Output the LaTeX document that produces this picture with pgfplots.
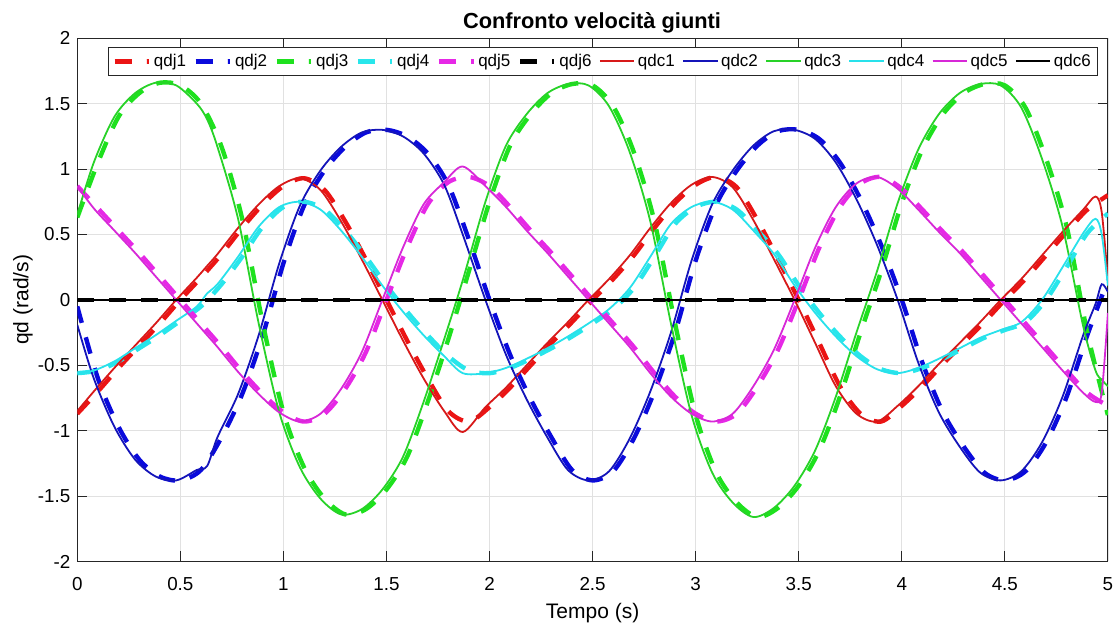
\documentclass[border=0pt]{standalone}
\usepackage{fontspec}
\setmainfont{Liberation Sans}
\usepackage{pgfplots}
\usepackage{pgfplotstable}
\pgfplotsset{compat=1.18}

\definecolor{axgray}{RGB}{38,38,38}
\definecolor{gridgray}{RGB}{225,225,225}
\definecolor{jR}{RGB}{235,20,20}
\definecolor{jB}{RGB}{10,10,220}
\definecolor{jG}{RGB}{30,225,30}
\definecolor{jC}{RGB}{40,230,235}
\definecolor{jM}{RGB}{230,40,230}
\definecolor{sR}{RGB}{215,25,25}
\definecolor{sB}{RGB}{20,20,185}
\definecolor{sG}{RGB}{40,210,40}
\definecolor{sC}{RGB}{40,225,235}
\definecolor{sM}{RGB}{215,40,215}

% desired joint velocities (dashed)
\pgfplotstableread{
t j1 j2 j3 j4 j5
0.0 -0.87 -0.05 0.63 -0.56 0.87
0.1 -0.70 -0.60 1.05 -0.54 0.70
0.2 -0.52 -0.97 1.40 -0.47 0.53
0.3 -0.35 -1.22 1.58 -0.37 0.36
0.4 -0.18 -1.35 1.66 -0.27 0.18
0.5 0.00 -1.38 1.64 -0.16 0.00
0.6 0.17 -1.30 1.50 -0.05 -0.18
0.7 0.35 -1.05 1.17 0.12 -0.36
0.8 0.55 -0.72 0.62 0.33 -0.55
0.9 0.73 -0.27 -0.18 0.56 -0.72
1.0 0.87 0.28 -0.86 0.71 -0.86
1.1 0.93 0.72 -1.28 0.75 -0.93
1.2 0.84 0.99 -1.52 0.69 -0.87
1.3 0.60 1.17 -1.64 0.53 -0.68
1.4 0.31 1.28 -1.60 0.33 -0.40
1.5 0.00 1.30 -1.45 0.11 0.00
1.6 -0.31 1.25 -1.20 -0.09 0.40
1.7 -0.60 1.12 -0.78 -0.27 0.73
1.8 -0.85 0.88 -0.30 -0.43 0.90
1.9 -0.93 0.46 0.22 -0.54 0.94
2.0 -0.82 0.00 0.75 -0.56 0.87
2.1 -0.67 -0.42 1.18 -0.52 0.71
2.2 -0.50 -0.76 1.42 -0.45 0.53
2.3 -0.33 -1.05 1.58 -0.37 0.36
2.4 -0.17 -1.30 1.65 -0.28 0.18
2.5 0.00 -1.38 1.64 -0.18 0.00
2.6 0.16 -1.31 1.48 -0.07 -0.18
2.7 0.34 -1.06 1.13 0.09 -0.36
2.8 0.55 -0.70 0.60 0.33 -0.56
2.9 0.74 -0.25 -0.18 0.58 -0.74
3.0 0.88 0.30 -0.88 0.71 -0.87
3.1 0.94 0.73 -1.32 0.75 -0.93
3.2 0.86 0.99 -1.55 0.69 -0.87
3.3 0.61 1.18 -1.66 0.53 -0.66
3.4 0.31 1.29 -1.59 0.35 -0.38
3.5 0.00 1.30 -1.42 0.11 0.00
3.6 -0.33 1.23 -1.15 -0.10 0.40
3.7 -0.66 1.05 -0.74 -0.28 0.71
3.8 -0.87 0.77 -0.25 -0.43 0.89
3.9 -0.93 0.42 0.22 -0.53 0.94
4.0 -0.81 0.00 0.74 -0.56 0.85
4.1 -0.66 -0.48 1.15 -0.52 0.69
4.2 -0.49 -0.86 1.42 -0.45 0.52
4.3 -0.33 -1.12 1.58 -0.37 0.36
4.4 -0.17 -1.32 1.65 -0.29 0.18
4.5 0.00 -1.38 1.64 -0.23 0.00
4.6 0.16 -1.31 1.47 -0.17 -0.18
4.7 0.34 -1.09 1.08 0.00 -0.36
4.8 0.52 -0.74 0.56 0.25 -0.54
4.9 0.69 -0.27 -0.25 0.51 -0.71
5.0 0.80 0.15 -0.88 0.66 -0.81
}\dashdata

% computed joint velocities (solid)
\pgfplotstableread{
t c1 c2 c3 c4 c5
0.00 -0.85 -0.19 0.65 -0.56 0.87
0.08 -0.70 -0.60 1.05 -0.54 0.70
0.18 -0.52 -0.97 1.40 -0.47 0.53
0.28 -0.35 -1.22 1.58 -0.37 0.36
0.38 -0.18 -1.35 1.66 -0.27 0.18
0.48 0.00 -1.38 1.64 -0.16 0.00
0.58 0.17 -1.30 1.50 -0.05 -0.18
0.63 0.26 -1.27 1.38 0.05 -0.27
0.68 0.35 -1.05 1.17 0.12 -0.36
0.78 0.55 -0.72 0.62 0.33 -0.55
0.88 0.73 -0.27 -0.18 0.56 -0.72
0.98 0.87 0.28 -0.86 0.71 -0.86
1.08 0.93 0.72 -1.28 0.75 -0.93
1.18 0.84 0.99 -1.52 0.69 -0.87
1.28 0.60 1.17 -1.64 0.53 -0.68
1.38 0.31 1.28 -1.60 0.33 -0.40
1.48 0.00 1.30 -1.45 0.11 0.00
1.58 -0.31 1.25 -1.20 -0.09 0.40
1.68 -0.60 1.12 -0.78 -0.27 0.73
1.78 -0.85 0.88 -0.30 -0.43 0.90
1.87 -1.01 0.50 0.15 -0.56 1.02
1.98 -0.82 0.00 0.75 -0.56 0.87
2.08 -0.67 -0.42 1.18 -0.52 0.71
2.18 -0.50 -0.76 1.42 -0.45 0.53
2.28 -0.33 -1.05 1.58 -0.37 0.36
2.38 -0.17 -1.30 1.65 -0.28 0.18
2.48 0.00 -1.38 1.64 -0.18 0.00
2.58 0.16 -1.31 1.48 -0.07 -0.18
2.68 0.34 -1.06 1.13 0.09 -0.36
2.78 0.55 -0.70 0.60 0.33 -0.56
2.88 0.74 -0.25 -0.18 0.58 -0.74
2.98 0.88 0.30 -0.88 0.71 -0.87
3.08 0.94 0.73 -1.32 0.75 -0.93
3.18 0.86 0.99 -1.55 0.69 -0.87
3.28 0.61 1.18 -1.66 0.53 -0.66
3.38 0.31 1.29 -1.59 0.35 -0.38
3.48 0.00 1.30 -1.42 0.11 0.00
3.58 -0.33 1.23 -1.15 -0.10 0.40
3.68 -0.66 1.05 -0.74 -0.28 0.71
3.78 -0.87 0.77 -0.25 -0.43 0.89
3.88 -0.93 0.42 0.22 -0.53 0.94
3.98 -0.81 0.00 0.74 -0.56 0.85
4.08 -0.66 -0.48 1.15 -0.52 0.69
4.18 -0.49 -0.86 1.42 -0.45 0.52
4.28 -0.33 -1.12 1.58 -0.37 0.36
4.38 -0.17 -1.32 1.65 -0.29 0.18
4.48 0.00 -1.38 1.64 -0.23 0.00
4.58 0.16 -1.31 1.47 -0.17 -0.18
4.68 0.34 -1.09 1.08 0.00 -0.36
4.78 0.52 -0.74 0.56 0.25 -0.54
4.88 0.69 -0.27 -0.20 0.51 -0.71
4.94 0.79 -0.03 -0.54 0.62 -0.78
4.97 0.67 0.12 -0.61 0.50 -0.71
5.00 0.15 0.06 -0.66 0.11 -0.10
}\soliddata

\begin{document}
\begin{tikzpicture}
\begin{axis}[
  at={(0,0)}, anchor=south west,
  scale only axis, width=515.3pt, height=261.6pt,
  xmin=0, xmax=5, ymin=-2, ymax=2,
  xtick={0,0.5,1,1.5,2,2.5,3,3.5,4,4.5,5},
  ytick={-2,-1.5,-1,-0.5,0,0.5,1,1.5,2},
  /pgf/number format/assume math mode=true,
  ticklabel style={font=\fontsize{9.4}{11}\selectfont, text=black},
  xticklabel style={yshift=-4.5pt},
  xtick pos=both, ytick pos=both,
  xticklabel pos=lower, yticklabel pos=left,
  tick align=inside, major tick length=5pt,
  tick style={draw=axgray, line width=0.5pt},
  axis line style={draw=axgray, line width=0.5pt},
  grid=major,
  major grid style={draw=gridgray, line width=0.4pt},
  every axis title shift=0pt,
  title={Confronto velocità giunti},
  title style={at={(axis description cs:0.4994,1.0191)}, anchor=base,
               font=\fontsize{10.9}{13}\selectfont\bfseries},
  xlabel={Tempo (s)},
  xlabel style={at={(axis description cs:0.5,-0.1086)}, anchor=base,
                font=\fontsize{10.5}{12}\selectfont},
  ylabel={qd (rad/s)},
  ylabel style={at={(axis description cs:-0.0474,0.5)}, anchor=base,
                font=\fontsize{10.5}{12}\selectfont},
  legend columns=12,
  legend style={at={(0.0298,0.9828)}, anchor=north west,
                draw=axgray, fill=white,
                font=\fontsize{8.5}{10}\selectfont,
                inner xsep=2pt, inner ysep=1pt,
                nodes={inner xsep=1.5pt, inner ysep=2pt},
                /tikz/every even column/.append style={column sep=2.2pt}},
]
\addplot[draw=jR, line width=2.2pt, dash pattern=on 8.5pt off 7.5pt, smooth] table[x=t, y=j1] {\dashdata};
\addplot[draw=jB, line width=2.2pt, dash pattern=on 8.5pt off 7.5pt, smooth] table[x=t, y=j2] {\dashdata};
\addplot[draw=jG, line width=2.2pt, dash pattern=on 8.5pt off 7.5pt, smooth] table[x=t, y=j3] {\dashdata};
\addplot[draw=jC, line width=2.2pt, dash pattern=on 8.5pt off 7.5pt, smooth] table[x=t, y=j4] {\dashdata};
\addplot[draw=jM, line width=2.2pt, dash pattern=on 8.5pt off 7.5pt, smooth] table[x=t, y=j5] {\dashdata};
\addplot[draw=black, line width=2.2pt, dash pattern=on 8.5pt off 7.5pt] coordinates {(0,0) (5,0)};
\addplot[draw=sR, line width=0.9pt, smooth] table[x=t, y=c1] {\soliddata};
\addplot[draw=sB, line width=0.9pt, smooth] table[x=t, y=c2] {\soliddata};
\addplot[draw=sG, line width=0.9pt, smooth] table[x=t, y=c3] {\soliddata};
\addplot[draw=sC, line width=0.9pt, smooth] table[x=t, y=c4] {\soliddata};
\addplot[draw=sM, line width=0.9pt, smooth] table[x=t, y=c5] {\soliddata};
\addplot[draw=black, line width=0.9pt] coordinates {(0,0) (5,0)};
\legend{qdj1,qdj2,qdj3,qdj4,qdj5,qdj6,qdc1,qdc2,qdc3,qdc4,qdc5,qdc6}
\end{axis}
\pgfresetboundingbox
\path (-38.65pt,-32.25pt) rectangle (520.85pt,280.75pt);
\end{tikzpicture}
\end{document}
